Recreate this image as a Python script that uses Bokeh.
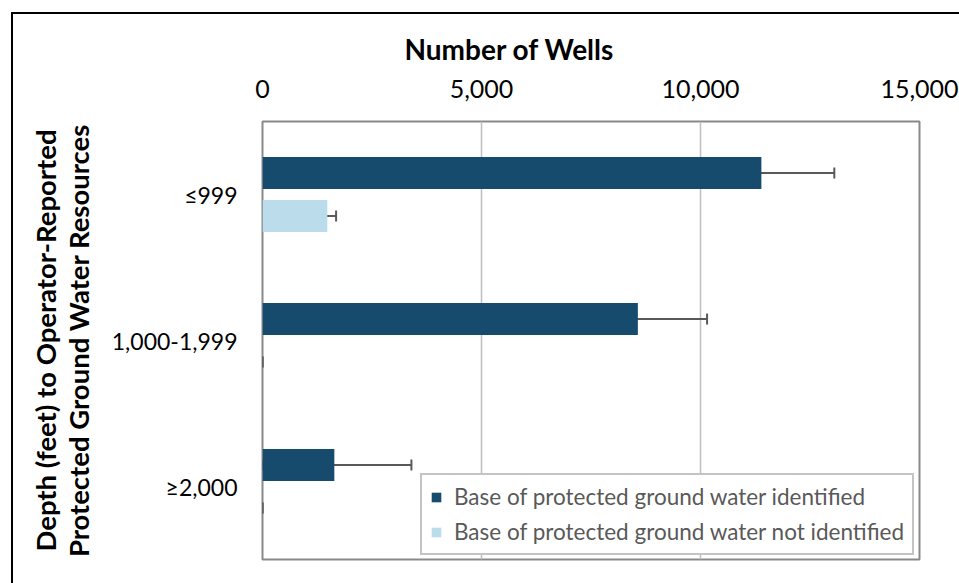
from bokeh.plotting import figure
from bokeh.models import (ColumnDataSource, FactorRange, Range1d, FixedTicker,
                          NumeralTickFormatter, Whisker, TeeHead, Legend, LegendItem,
                          InlineStyleSheet, Title)
from bokeh.transform import dodge
from bokeh.embed import file_html
from bokeh.resources import INLINE

# ---- data ----
categories = ["≤999", "1,000-1,999", "≥2,000"]
identified = [11390, 8570, 1640]
identified_err = [1665, 1580, 1760]
not_identified = [1480, 0, 0]
not_identified_err = [200, 0, 0]
x_ticks = [0, 5000, 10000, 15000]
series_names = ["Base of protected ground water identified",
                "Base of protected ground water not identified"]
x_title = "Number of Wells"
y_title = "Depth (feet) to Operator-Reported\nProtected Ground Water Resources"

DARK = "#164B6E"
LIGHT = "#BBDCEB"
FONT = "Lato"

src = ColumnDataSource(dict(
    cat=categories,
    ident=identified,
    ident_lo=[max(0, v - e) for v, e in zip(identified, identified_err)],
    ident_hi=[v + e for v, e in zip(identified, identified_err)],
    nid=not_identified,
    nid_lo=[max(0, v - e) for v, e in zip(not_identified, not_identified_err)],
    nid_hi=[v + e for v, e in zip(not_identified, not_identified_err)],
))

W, HGT = 959, 583
p = figure(width=W, height=HGT,
           x_range=Range1d(0, 15000),
           y_range=FactorRange(factors=list(reversed(categories))),
           x_axis_location="above",
           output_backend="svg", toolbar_location=None,
           min_border_left=262, min_border_top=121,
           min_border_right=40, min_border_bottom=24)

OFF = 0.147
H = 0.22
r1 = p.hbar(y=dodge("cat", OFF, range=p.y_range), right="ident", left=0, height=H,
            source=src, fill_color=DARK, line_color=None)
r2 = p.hbar(y=dodge("cat", -OFF, range=p.y_range), right="nid", left=0, height=H,
            source=src, fill_color=LIGHT, line_color=None)

for off, lo, hi in [(OFF, "ident_lo", "ident_hi"), (-OFF, "nid_lo", "nid_hi")]:
    w = Whisker(base=dodge("cat", off, range=p.y_range), lower=lo, upper=hi,
                dimension="width", source=src, line_color="#595959", line_width=2,
                upper_head=TeeHead(size=11, line_color="#595959", line_width=2),
                lower_head=TeeHead(size=11, line_color="#595959", line_width=2))
    p.add_layout(w)

# axes
xa = p.xaxis[0]
xa.ticker = FixedTicker(ticks=x_ticks)
xa.formatter = NumeralTickFormatter(format="0,0")
xa.major_label_text_font = FONT
xa.major_label_text_font_size = "25px"
xa.major_label_text_color = "#000000"
xa.major_label_standoff = 18
xa.axis_line_color = None
xa.major_tick_line_color = None
xa.minor_tick_line_color = None

p.add_layout(Title(text=x_title, align="left", offset=142, standoff=22,
                   text_font=FONT, text_font_style="bold", text_font_size="28px",
                   text_color="#000000"), "above")

ya = p.yaxis[0]
ya.axis_label = y_title
ya.axis_label_text_font = FONT
ya.axis_label_text_font_style = "bold"
ya.axis_label_text_font_size = "27.5px"
ya.axis_label_text_line_height = 1.0
ya.axis_label_text_color = "#000000"
ya.axis_label_standoff = 14
ya.major_label_text_font = FONT
ya.major_label_text_font_size = "23px"
ya.major_label_text_color = "#000000"
ya.major_label_standoff = 19
ya.axis_line_color = None
ya.major_tick_line_color = None
ya.minor_tick_line_color = None

p.xgrid.grid_line_color = "#BFBFBF"
p.xgrid.grid_line_width = 1.5
p.xgrid.ticker = FixedTicker(ticks=x_ticks)
p.ygrid.grid_line_color = None

p.outline_line_color = "#898989"
p.outline_line_width = 2
p.background_fill_color = "white"
p.border_fill_color = "white"

legend = Legend(items=[LegendItem(label=series_names[0], renderers=[r1]),
                       LegendItem(label=series_names[1], renderers=[r2])],
                location=(158, 4))
legend.label_text_font = FONT
legend.label_text_font_size = "22.5px"
legend.label_text_color = "#595959"
legend.glyph_width = 12
legend.glyph_height = 12
legend.label_standoff = 12
legend.spacing = 8
legend.padding = 8
legend.margin = 0
legend.border_line_color = "#898989"
legend.border_line_width = 2
legend.background_fill_alpha = 1
p.add_layout(legend, "center")

# outer chart border: only its top and left edges fall inside the window
p.stylesheets = [InlineStyleSheet(css=""":host::before { content: ''; position: absolute;
 left: 11px; top: 12px; right: 0; height: 2px; background: black;
 pointer-events: none; z-index: 10; }
:host::after { content: ''; position: absolute;
 left: 11px; top: 12px; width: 2px; bottom: 0; background: black;
 pointer-events: none; z-index: 10; }""")]

open("out.html", "w").write(file_html(p, INLINE))
